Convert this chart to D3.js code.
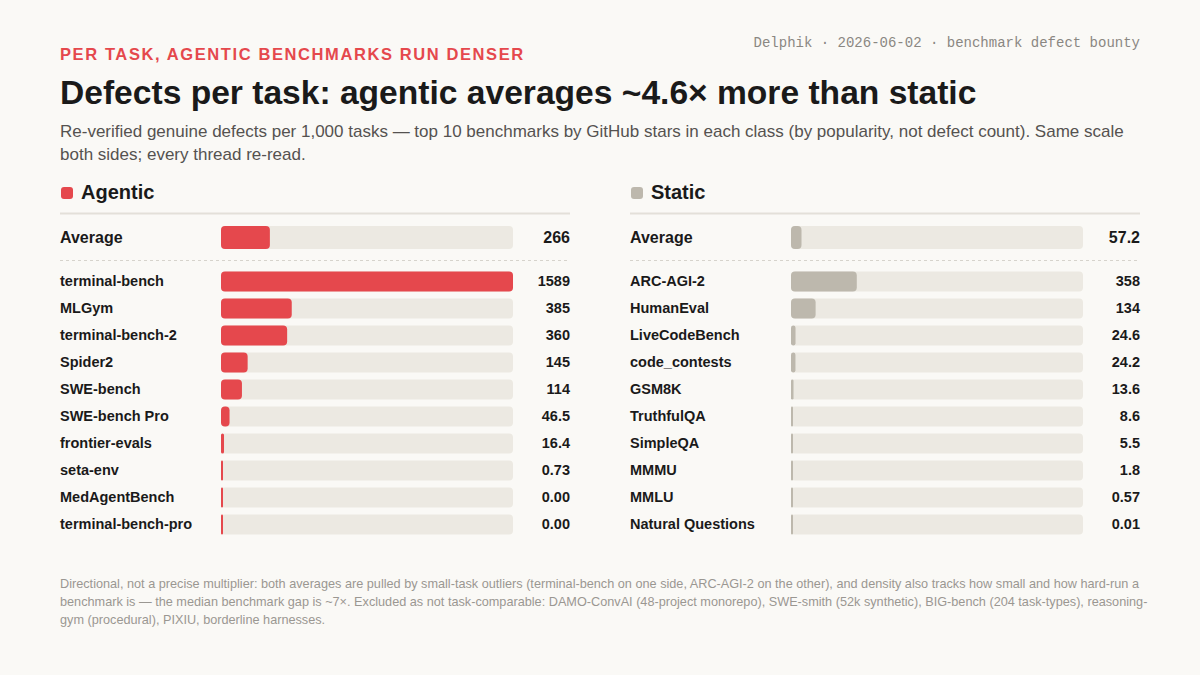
<!DOCTYPE html>
<html>
<head>
<meta charset="utf-8">
<script src="https://cdn.jsdelivr.net/npm/d3@7"></script>
<style>
  body { margin: 0; background: #faf9f6; }
  svg { display: block; font-family: "Liberation Sans", Arial, Helvetica, sans-serif; }
</style>
</head>
<body>
<div id="chart"></div>
<script>
// Agentic benchmarks (defects per 1,000 tasks)
var agenticNames = ["terminal-bench", "MLGym", "terminal-bench-2", "Spider2", "SWE-bench",
    "SWE-bench Pro", "frontier-evals", "seta-env", "MedAgentBench", "terminal-bench-pro"];
var agenticValues = [1589, 385, 360, 145, 114, 46.5, 16.4, 0.73, 0.00, 0.00];
var agenticLabels = ["1589", "385", "360", "145", "114", "46.5", "16.4", "0.73", "0.00", "0.00"];
var agenticAverage = 266;
var agenticAverageLabel = "266";

// Static benchmarks
var staticNames = ["ARC-AGI-2", "HumanEval", "LiveCodeBench", "code_contests", "GSM8K",
    "TruthfulQA", "SimpleQA", "MMMU", "MMLU", "Natural Questions"];
var staticValues = [358, 134, 24.6, 24.2, 13.6, 8.6, 5.5, 1.8, 0.57, 0.01];
var staticLabels = ["358", "134", "24.6", "24.2", "13.6", "8.6", "5.5", "1.8", "0.57", "0.01"];
var staticAverage = 57.2;
var staticAverageLabel = "57.2";

var kicker = "PER TASK, AGENTIC BENCHMARKS RUN DENSER";
var title = "Defects per task: agentic averages ~4.6\u00d7 more than static";
var subtitle = "Re-verified genuine defects per 1,000 tasks \u2014 top 10 benchmarks by GitHub stars in each class (by popularity, not defect count). Same scale both sides; every thread re-read.";
var credit = "Delphik \u00b7 2026-06-02 \u00b7 benchmark defect bounty";
var footnote = "Directional, not a precise multiplier: both averages are pulled by small-task outliers (terminal-bench on one side, ARC-AGI-2 on the other), and density also tracks how small and how hard-run a benchmark is \u2014 the median benchmark gap is ~7\u00d7. Excluded as not task-comparable: DAMO-ConvAI (48-project monorepo), SWE-smith (52k synthetic), BIG-bench (204 task-types), reasoning-gym (procedural), PIXIU, borderline harnesses.";

function init() {
    var w = 1200, h = 675;
    var red = "#e5484d", grey = "#bdb8ad", track = "#ece9e2";

    var svg = d3.select("#chart").append("svg")
        .attr("width", w).attr("height", h);

    svg.append("rect").attr("width", w).attr("height", h).attr("fill", "#faf9f6");

    // Wrap text into lines of a max width (breaks after spaces and hyphens)
    function wrap(sel, text, width, lineH) {
        var tokens = text.split(/(?<=[ -])/);
        var line = "";
        var tspan = sel.append("tspan").attr("x", sel.attr("x")).attr("dy", 0);
        tokens.forEach(function (tok) {
            var test = line + tok;
            tspan.text(test.trim());
            if (tspan.node().getComputedTextLength() > width && line.length > 0) {
                tspan.text(line.trim());
                line = tok;
                tspan = sel.append("tspan").attr("x", sel.attr("x")).attr("dy", lineH).text(tok.trim());
            } else {
                line = test;
            }
        });
    }

    // Header
    svg.append("text").attr("x", 60).attr("y", 60)
        .attr("fill", red).attr("font-size", 16.5).attr("font-weight", "bold")
        .attr("letter-spacing", 1.6).text(kicker);

    svg.append("text").attr("x", 1140).attr("y", 47).attr("text-anchor", "end")
        .attr("font-family", "'Liberation Mono', 'Courier New', monospace")
        .attr("fill", "#8a8782").attr("font-size", 14).text(credit);

    svg.append("text").attr("x", 60).attr("y", 104)
        .attr("fill", "#1a1a1a").attr("font-size", 33.6).attr("font-weight", "bold")
        .text(title);

    svg.append("text").attr("x", 60).attr("y", 137)
        .attr("fill", "#555250").attr("font-size", 17)
        .call(function (s) { wrap(s, subtitle, 1084, 23); });

    // Shared scale for both panels
    var maxVal = d3.max(agenticValues.concat(staticValues));
    var x = d3.scaleLinear().domain([0, maxVal]).range([0, 292]);

    var rowY = d3.scaleBand().domain(d3.range(10)).range([268, 538]).paddingInner(0.26).paddingOuter(0.13);

    function panel(x0, name, color, names, values, labels, avg, avgLabel) {
        var g = svg.append("g").attr("transform", "translate(" + x0 + ",0)");
        var barX = 161, barW = 292, right = 510;

        g.append("rect").attr("x", 1).attr("y", 187).attr("width", 12).attr("height", 12)
            .attr("rx", 3).attr("fill", color);
        g.append("text").attr("x", 21).attr("y", 199).attr("font-size", 20)
            .attr("font-weight", "bold").attr("fill", "#1a1a1a").text(name);
        g.append("line").attr("x1", 0).attr("x2", right).attr("y1", 213.5).attr("y2", 213.5)
            .attr("stroke", "#e3e0d9").attr("stroke-width", 2);

        // Average row
        g.append("text").attr("x", 0).attr("y", 243).attr("font-size", 16)
            .attr("font-weight", "bold").attr("fill", "#1a1a1a").text("Average");
        g.append("rect").attr("x", barX).attr("y", 226).attr("width", barW).attr("height", 23)
            .attr("rx", 4).attr("fill", track);
        g.append("rect").attr("x", barX).attr("y", 226).attr("width", Math.max(3, x(avg))).attr("height", 23)
            .attr("rx", 4).attr("fill", color);
        g.append("text").attr("x", right).attr("y", 243).attr("text-anchor", "end")
            .attr("font-size", 16).attr("font-weight", "bold").attr("fill", "#1a1a1a").text(avgLabel);

        g.append("line").attr("x1", 0).attr("x2", right).attr("y1", 260.5).attr("y2", 260.5)
            .attr("stroke", "#d6d3cc").attr("stroke-dasharray", "3,3");

        var rows = g.selectAll("g.row").data(names).enter().append("g").attr("class", "row")
            .attr("transform", function (d, i) { return "translate(0," + rowY(i) + ")"; });
        var bh = rowY.bandwidth();

        rows.append("text").attr("x", 0).attr("y", bh / 2 + 5).attr("font-size", 14.5)
            .attr("font-weight", "bold").attr("fill", "#1a1a1a").text(function (d) { return d; });
        rows.append("rect").attr("x", barX).attr("y", 0).attr("width", barW).attr("height", bh)
            .attr("rx", 4).attr("fill", track);
        rows.append("rect").attr("x", barX).attr("y", 0)
            .attr("width", function (d, i) { return Math.max(2, x(values[i])); })
            .attr("height", bh).attr("rx", function (d, i) { return Math.min(4, Math.max(1, x(values[i]) / 2)); })
            .attr("fill", color);
        rows.append("text").attr("x", right).attr("y", bh / 2 + 5).attr("text-anchor", "end")
            .attr("font-size", 14.5).attr("font-weight", "bold").attr("fill", "#1a1a1a")
            .text(function (d, i) { return labels[i]; });
    }

    panel(60, "Agentic", red, agenticNames, agenticValues, agenticLabels, agenticAverage, agenticAverageLabel);
    panel(630, "Static", grey, staticNames, staticValues, staticLabels, staticAverage, staticAverageLabel);

    svg.append("text").attr("x", 60).attr("y", 588)
        .attr("fill", "#9a9792").attr("font-size", 12.7)
        .call(function (s) { wrap(s, footnote, 1092, 18); });
}

window.onload = init;
</script>
</body>
</html>
